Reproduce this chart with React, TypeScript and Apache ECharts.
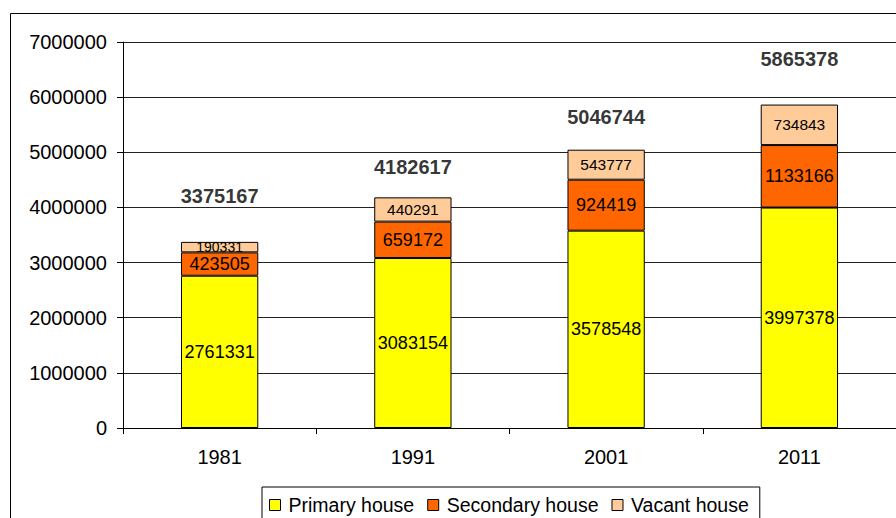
import React, { useEffect, useRef } from "react";
import * as echarts from "echarts";

const years = ["1981", "1991", "2001", "2011"];
const primary = [2761331, 3083154, 3578548, 3997378];
const secondary = [423505, 659172, 924419, 1133166];
const vacant = [190331, 440291, 543777, 734843];
const totals = [3375167, 4182617, 5046744, 5865378];

const FONT = "'Liberation Sans', Arial, sans-serif";

export default function App() {
  const ref = useRef<HTMLDivElement>(null);
  useEffect(() => {
    if (!ref.current) return;
    const chart = echarts.init(ref.current, undefined, { renderer: "svg" });
    const labelGaps = [36, 20, 23, 36];
    const barItem = (color: string) => ({ color, borderColor: "#000", borderWidth: 1 });
    chart.setOption({
      animation: false,
      textStyle: { fontFamily: FONT },
      grid: { left: 123, right: -1, top: 42, bottom: 90 },
      graphic: [
        {
          type: "rect",
          shape: { x: 10.5, y: 13.5, width: 1000, height: 1000 },
          style: { fill: "none", stroke: "#000", lineWidth: 1 },
          silent: true,
        },
      ],
      legend: {
        left: 262,
        top: 487,
        padding: [8, 11, 10, 7],
        borderColor: "#000",
        borderWidth: 1,
        itemWidth: 11,
        itemHeight: 11,
        itemGap: 13,
        icon: "rect",
        textStyle: { fontFamily: FONT, fontSize: 19.5, color: "#000", padding: [0, 0, 0, 3] },
        data: [
          { name: "Primary house", itemStyle: barItem("#FFFF00") },
          { name: "Secondary house", itemStyle: barItem("#FF6600") },
          { name: "Vacant house", itemStyle: barItem("#FFCC99") },
        ],
      },
      xAxis: {
        type: "category",
        data: years,
        axisLine: { lineStyle: { color: "#000", width: 1 } },
        axisTick: { show: true, length: 6, lineStyle: { color: "#000" } },
        axisLabel: { color: "#000", fontSize: 20, margin: 19, fontFamily: FONT },
        splitLine: { show: false },
      },
      yAxis: {
        type: "value",
        min: 0,
        max: 7000000,
        interval: 1000000,
        axisLine: { show: true, lineStyle: { color: "#000", width: 1 } },
        axisTick: { show: true, length: 6, lineStyle: { color: "#000" } },
        axisLabel: {
          color: "#000",
          fontSize: 20,
          margin: 16,
          fontFamily: FONT,
          formatter: (v: number) => String(v),
        },
        splitLine: { show: true, lineStyle: { color: "#222", width: 1 } },
      },
      series: [
        {
          name: "Primary house",
          type: "bar",
          stack: "all",
          barCategoryGap: "60%",
          data: primary,
          itemStyle: barItem("#FFFF00"),
          label: { show: true, position: "inside", color: "#000", fontSize: 18, fontFamily: FONT },
        },
        {
          name: "Secondary house",
          type: "bar",
          stack: "all",
          data: secondary,
          itemStyle: barItem("#FF6600"),
          label: { show: true, position: "inside", color: "#000", fontSize: 18, fontFamily: FONT },
        },
        {
          name: "Vacant house",
          type: "bar",
          stack: "all",
          data: vacant.map((v, i) => ({
            value: v,
            label: i === 0 ? { fontSize: 14 } : undefined,
          })),
          itemStyle: barItem("#FFCC99"),
          label: { show: true, position: "inside", color: "#000", fontSize: 15.5, fontFamily: FONT },
        },
        {
          name: "Total",
          type: "scatter",
          symbolSize: 0,
          data: totals.map((t, i) => ({ value: t, label: { distance: labelGaps[i] } })),
          label: {
            show: true,
            position: "top",
            color: "#000",
            fontSize: 20,
            fontWeight: "bold",
            fontFamily: FONT,
            formatter: (p: any) => String(p.value),
          },
          silent: true,
        },
      ],
    });
    return () => chart.dispose();
  }, []);
  return <div ref={ref} style={{ width: 896, height: 518, position: "fixed", left: 0, top: 0, background: "#fff" }} />;
}
